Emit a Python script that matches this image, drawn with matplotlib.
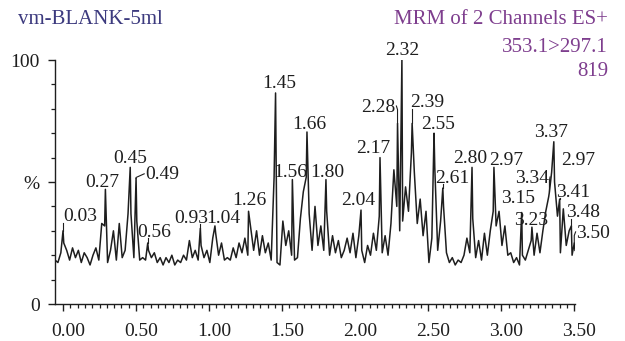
import numpy as np
import matplotlib
matplotlib.use("Agg")
import matplotlib.pyplot as plt
from matplotlib.transforms import ScaledTranslation

plt.rcParams['font.family'] = ['Liberation Serif', 'DejaVu Serif']

# baseline trace, one reading every 0.02 min from -0.055 min (% of max)
trace_start = -0.055
trace_step = 0.02
trace_pct = [
    18, 17, 21, 25, 22, 18, 23, 19, 22, 17,
    21, 19, 16, 20, 23, 18, 33, 32, 17, 22,
    30, 18, 33, 19, 22, 37, 37, 19, 34, 18,
    19, 18, 22, 19, 21, 17, 19, 16, 19, 17,
    20, 16, 18, 17, 20, 18, 26, 19, 22, 18,
    24, 19, 22, 17, 27, 29, 20, 25, 18, 19,
    18, 23, 19, 25, 21, 27, 20, 31, 22, 30,
    20, 28, 21, 25, 18, 52, 17, 16, 34, 24,
    30, 20, 18, 19, 35, 46, 52, 37, 22, 40,
    24, 32, 22, 38, 20, 28, 21, 26, 19, 22,
    27, 21, 29, 19, 28, 22, 17, 24, 20, 29,
    22, 36, 21, 28, 20, 33, 55, 40, 30, 34,
    48, 38, 62, 54, 33, 43, 28, 38, 17, 27,
    56, 22, 34, 40, 21, 17, 19, 16, 18, 17,
    20, 27, 21, 35, 19, 26, 18, 29, 20, 30,
    38, 32, 38, 24, 32, 20, 21, 17, 19, 16,
    20, 18, 22, 26, 20, 29, 21, 30, 38, 44,
    54, 50, 36, 21, 39, 24, 30, 20, 22,
]

# labelled peaks: position on the time axis, height (%), printed label
peak_rt = [0.00, 0.29, 0.46, 0.50, 0.58, 0.94, 1.04, 1.27, 1.455, 1.57,
           1.67, 1.80, 2.04, 2.17, 2.29, 2.32, 2.39, 2.54, 2.60, 2.80,
           2.95, 3.14, 3.21, 3.33, 3.36, 3.40, 3.48, 3.50]
peak_pct = [30, 47, 56, 51.5, 25, 31, 32, 38, 86.5, 51,
            70.5, 51, 38.5, 60, 74, 100, 74, 70, 47.5, 56,
            56, 37.5, 31.5, 46, 66.5, 43, 32, 25]
peak_labels = ['0.03', '0.27', '0.45', '0.49', '0.56', '0.93', '1.04', '1.26', '1.45', '1.56',
               '1.66', '1.80', '2.04', '2.17', '2.28', '2.32', '2.39', '2.55', '2.61', '2.80',
               '2.97', '3.15', '3.23', '3.34', '3.37', '3.41', '3.48', '3.50']

# label layout: text centre (time, %) and whether a hook leads to the peak
label_xy = [(0.116, 35.7), (0.266, 50.0), (0.458, 59.8), (0.677, 52.9), (0.622, 29.5),
            (0.875, 35.2), (1.094, 35.2), (1.278, 42.6), (1.483, 90.2), (1.558, 54.1),
            (1.688, 73.4), (1.811, 54.1), (2.023, 42.6), (2.126, 63.9), (2.160, 80.7),
            (2.324, 104.0), (2.495, 82.4), (2.570, 73.4), (2.666, 51.6), (2.789, 59.8),
            (3.035, 59.0), (3.117, 43.4), (3.206, 34.4), (3.213, 51.6), (3.342, 70.1),
            (3.493, 45.9), (3.561, 37.3), (3.630, 29.1)]
label_hook = [True, False, False, True, True, True, False, False, False, False,
              False, False, False, False, True, False, True, False, True, False,
              False, False, False, True, False, True, True, True]
extra_label = ('2.97', (3.527, 59.0))

ink = '#1e1e1e'

trace_t = trace_start + trace_step * np.arange(len(trace_pct))
all_t = np.concatenate([trace_t, peak_rt])
all_v = np.concatenate([trace_pct, peak_pct])
order = np.argsort(all_t)

fig = plt.figure(figsize=(6.25, 3.41), dpi=100)
ax = fig.add_axes([0.088, 0.1085, 0.832, 0.7155])
ax.plot(all_t[order], all_v[order], color=ink, lw=1.1)

ax.set_xlim(-0.055, 3.505)
ax.set_ylim(0, 100)
for s in ['top', 'right']:
    ax.spines[s].set_visible(False)
for s in ['left', 'bottom']:
    ax.spines[s].set_color(ink)
    ax.spines[s].set_linewidth(1.0)

ax.set_xticks(np.arange(0, 3.51, 0.5))
ax.set_xticklabels(['0.00', '0.50', '1.00', '1.50', '2.00', '2.50', '3.00', '3.50'])
ax.set_xticks(np.arange(0, 3.51, 0.05), minor=True)
ax.set_yticks([0, 50, 100])
ax.set_yticklabels(['0', '%', '100'])
ax.set_yticks(np.arange(0, 101, 10), minor=True)
ax.tick_params(axis='both', which='major', direction='out', length=5, width=1,
               labelsize=14, color=ink, labelcolor=ink)
ax.tick_params(axis='both', which='minor', direction='out', length=3, width=0.9, color=ink)
ax.tick_params(axis='x', which='major', pad=9)
ax.tick_params(axis='y', which='major', pad=6)
for lab in ax.get_xticklabels():
    lab.set_transform(lab.get_transform() + ScaledTranslation(0.05, 0, fig.dpi_scale_trans))

texts = []
for txt, (lx, ly) in zip(peak_labels, label_xy):
    texts.append(ax.text(lx, ly, txt, ha='center', va='center', fontsize=14,
                         color=ink, clip_on=False))
ax.text(extra_label[1][0], extra_label[1][1], extra_label[0], ha='center', va='center',
        fontsize=14, color=ink, clip_on=False)

# hooks from peak tops to the labels that sit beside their peak
fig.canvas.draw()
renderer = fig.canvas.get_renderer()
inv = ax.transData.inverted()
for t, rt, h, hook in zip(texts, peak_rt, peak_pct, label_hook):
    if not hook:
        continue
    bb = t.get_window_extent(renderer)
    (x0, y0), (x1, y1) = inv.transform([[bb.x0, bb.y0], [bb.x1, bb.y1]])
    ymid = y0 + 0.35 * (y1 - y0)
    if rt < x0:
        xs, ys = [rt, rt, x0 - 0.005], [h, ymid, ymid + 1.5]
    elif rt > x1:
        xs, ys = [rt, rt, x1 + 0.005], [h, ymid, ymid + 1.5]
    else:
        xs, ys = [rt, rt], [h, y0 + 1]
    ax.plot(xs, ys, color=ink, lw=0.8, clip_on=False)

fig.text(18 / 625, 1 - 20 / 341, 'vm-BLANK-5ml', ha='left', va='center', fontsize=15, color='#3c3a7e')
fig.text(608 / 625, 1 - 19 / 341, 'MRM of 2 Channels ES+', ha='right', va='center', fontsize=15, color='#7e3e8e')
fig.text(608 / 625, 1 - 48 / 341, '353.1>297.1', ha='right', va='center', fontsize=15, color='#7e3e8e')
fig.text(608 / 625, 1 - 71 / 341, '819', ha='right', va='center', fontsize=15, color='#7e3e8e')

fig.savefig('out.png', dpi=100, facecolor='white')
